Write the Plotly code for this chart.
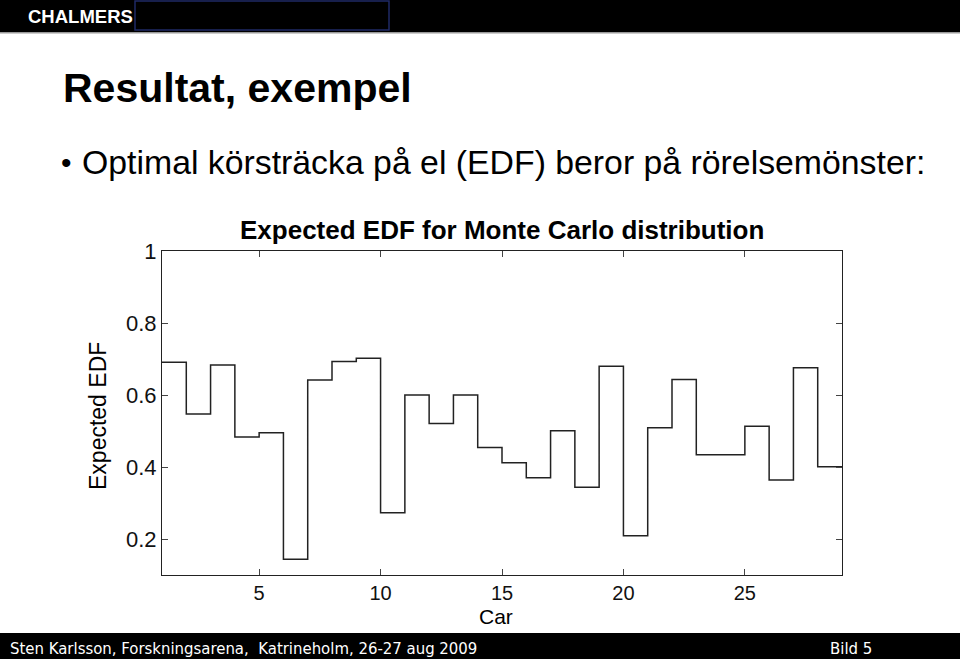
import plotly.graph_objects as go

W, H = 960, 659

cars = list(range(1, 29))
edf = [0.691, 0.547, 0.683, 0.483, 0.495, 0.144, 0.642, 0.693, 0.702, 0.273,
       0.600, 0.521, 0.600, 0.454, 0.412, 0.370, 0.501, 0.344, 0.680, 0.209,
       0.509, 0.643, 0.434, 0.434, 0.513, 0.364, 0.676, 0.401]
x_ticks = [5, 10, 15, 20, 25]
y_ticks = [0.2, 0.4, 0.6, 0.8, 1.0]
y_tick_labels = ["0.2", "0.4", "0.6", "0.8", "1"]

# stairs: last step extends one unit past the last car
x_st = cars + [cars[-1] + 1]
y_st = edf + [edf[-1]]

def px(x):
    return x / W

def py(y):
    return 1 - y / H

fig = go.Figure()
fig.add_trace(go.Scatter(x=x_st, y=y_st, mode="lines", line=dict(shape="hv", color="#222222", width=1.5),
                         hoverinfo="skip", showlegend=False))

CH = "Liberation Sans, Arial, sans-serif"
axis_common = dict(showline=True, linecolor="#222222", linewidth=1.2, mirror="ticks", ticks="inside",
                   ticklen=6, tickcolor="#444444", showgrid=False, zeroline=False, automargin=False)
fig.update_xaxes(range=[1, 29], domain=[px(162), px(842)], tickvals=x_ticks,
                 tickfont=dict(family=CH, size=20, color="#111111"), **axis_common)
fig.update_yaxes(range=[0.1, 1.0], domain=[py(575), py(251)], tickvals=y_ticks, ticktext=y_tick_labels,
                 tickfont=dict(family=CH, size=22, color="#111111"), **axis_common)

shapes = [
    # header bar
    dict(type="rect", xref="paper", yref="paper", x0=0, x1=1, y0=py(32), y1=1, fillcolor="black", line_width=0, layer="below"),
    dict(type="rect", xref="paper", yref="paper", x0=0, x1=1, y0=py(33.5), y1=py(32), fillcolor="#9a9a9a", line_width=0, layer="below"),
    dict(type="rect", xref="paper", yref="paper", x0=px(135), x1=px(389), y0=py(30), y1=py(1), fillcolor="black",
         line=dict(color="#1f2a66", width=1.5), layer="below"),
    # footer bar
    dict(type="rect", xref="paper", yref="paper", x0=0, x1=1, y0=0, y1=py(633), fillcolor="black", line_width=0, layer="below"),
]

FT = "DejaVu Sans Condensed, Liberation Sans Narrow, DejaVu Sans"
annotations = [
    dict(text="<b>CHALMERS</b>", x=px(26), y=py(16.5), xanchor="left", yanchor="middle",
         font=dict(family=CH, size=18.5, color="white")),
    dict(text="<b>Resultat, exempel</b>", x=px(61), y=py(88), xanchor="left", yanchor="middle",
         font=dict(family=CH, size=41, color="black")),
    dict(text="•", x=px(59), y=py(163), xanchor="left", yanchor="middle",
         font=dict(family=CH, size=30, color="black")),
    dict(text="Optimal körsträcka på el (EDF) beror på rörelsemönster:", x=px(80), y=py(162), xanchor="left", yanchor="middle",
         font=dict(family=CH, size=33.8, color="black")),
    dict(text="<b>Expected EDF for Monte Carlo distribution</b>", x=px(502), y=py(230), xanchor="center", yanchor="middle",
         font=dict(family=CH, size=26, color="black")),
    dict(text="Expected EDF", x=px(98), y=py(416), xanchor="center", yanchor="middle", textangle=-90,
         font=dict(family=CH, size=23, color="black")),
    dict(text="Car", x=px(496), y=py(616), xanchor="center", yanchor="middle",
         font=dict(family=CH, size=21, color="black")),
    dict(text="Sten Karlsson, Forskningsarena,\u00a0 Katrineholm, 26-27 aug 2009", x=px(8), y=py(648), xanchor="left", yanchor="middle",
         font=dict(family=FT, size=16.6, color="white")),
    dict(text="Bild 5", x=px(828), y=py(648), xanchor="left", yanchor="middle",
         font=dict(family=FT, size=16.6, color="white")),
]
for a in annotations:
    a.update(xref="paper", yref="paper", showarrow=False)

fig.update_layout(width=W, height=H, margin=dict(l=0, r=0, t=0, b=0, pad=0, autoexpand=False),
                  paper_bgcolor="white", plot_bgcolor="white",
                  shapes=shapes, annotations=annotations, showlegend=False)

fig.write_html("out.html", config={"displayModeBar": False})
